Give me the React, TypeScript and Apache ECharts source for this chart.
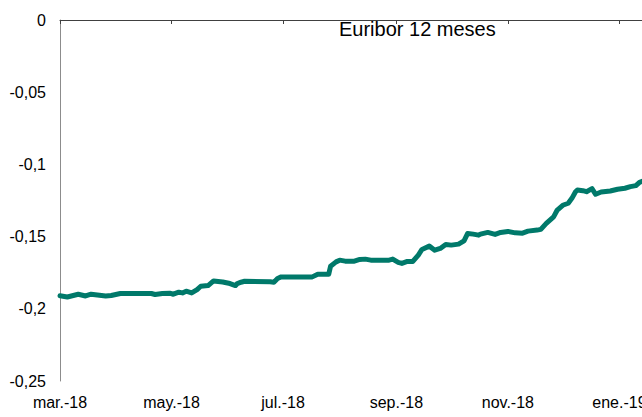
import React, { useEffect, useRef } from "react";
import * as echarts from "echarts";

const chartTitle = "Euribor 12 meses";

const startDate = "2018-03-01";
const endDate = "2019-01-15";

const tickDates = ["2018-03-01", "2018-05-01", "2018-07-01", "2018-09-01", "2018-11-01", "2019-01-01"];
const tickLabels = ["mar.-18", "may.-18", "jul.-18", "sep.-18", "nov.-18", "ene.-19"];

const obsDates = [
  "2018-03-01", "2018-03-05", "2018-03-11", "2018-03-15", "2018-03-18", "2018-03-26", "2018-03-29",
  "2018-04-03", "2018-04-20", "2018-04-22", "2018-04-26", "2018-04-30", "2018-05-02", "2018-05-05",
  "2018-05-07", "2018-05-09", "2018-05-12", "2018-05-15", "2018-05-17", "2018-05-21", "2018-05-24",
  "2018-05-29", "2018-06-02", "2018-06-05", "2018-06-06", "2018-06-08", "2018-06-10", "2018-06-24",
  "2018-06-26", "2018-06-28", "2018-06-30", "2018-07-17", "2018-07-20", "2018-07-26", "2018-07-27",
  "2018-07-30", "2018-08-01", "2018-08-04", "2018-08-09", "2018-08-12", "2018-08-15", "2018-08-18",
  "2018-08-28", "2018-08-30", "2018-09-02", "2018-09-04", "2018-09-07", "2018-09-10", "2018-09-13",
  "2018-09-15", "2018-09-19", "2018-09-22", "2018-09-25", "2018-09-28", "2018-10-01", "2018-10-05",
  "2018-10-08", "2018-10-10", "2018-10-13", "2018-10-16", "2018-10-17", "2018-10-21", "2018-10-25",
  "2018-10-28", "2018-11-01", "2018-11-05", "2018-11-09", "2018-11-12", "2018-11-17", "2018-11-19",
  "2018-11-22", "2018-11-26", "2018-11-28", "2018-12-01", "2018-12-04", "2018-12-06", "2018-12-08",
  "2018-12-09", "2018-12-12", "2018-12-14", "2018-12-17", "2018-12-19", "2018-12-22", "2018-12-27",
  "2018-12-31", "2019-01-04", "2019-01-07", "2019-01-10", "2019-01-12", "2019-01-15",
];

const euribor12m = [
  -0.191, -0.1918, -0.1899, -0.1911, -0.1899, -0.1911, -0.1908,
  -0.1894, -0.1894, -0.1901, -0.1894, -0.1892, -0.1899, -0.1885,
  -0.189, -0.1878, -0.189, -0.1867, -0.1844, -0.1839, -0.1807,
  -0.1814, -0.1825, -0.1839, -0.1825, -0.1816, -0.1809, -0.1813,
  -0.1816, -0.179, -0.1779, -0.1779, -0.176, -0.176, -0.1705,
  -0.1675, -0.1663, -0.167, -0.167, -0.1658, -0.1656, -0.1663,
  -0.1663, -0.1656, -0.1679, -0.1686, -0.1672, -0.1672, -0.1628,
  -0.1589, -0.1566, -0.1594, -0.1582, -0.1554, -0.1559, -0.1552,
  -0.1529, -0.1478, -0.1483, -0.149, -0.1483, -0.1471, -0.1485,
  -0.1471, -0.1464, -0.1474, -0.1476, -0.1462, -0.1455, -0.145,
  -0.1408, -0.1363, -0.1316, -0.1283, -0.1269, -0.1235, -0.1189,
  -0.1177, -0.1182, -0.1189, -0.1168, -0.1207, -0.1191, -0.1184,
  -0.1172, -0.1165, -0.1154, -0.1147, -0.1124, -0.111,
];

function dayCategories(from: string, to: string): string[] {
  const out: string[] = [];
  const d = new Date(from + "T00:00:00Z");
  const end = new Date(to + "T00:00:00Z");
  while (d.getTime() <= end.getTime()) {
    out.push(d.toISOString().slice(0, 10));
    d.setUTCDate(d.getUTCDate() + 1);
  }
  return out;
}

const FONT = "'Liberation Sans', Arial, sans-serif";

export default function App() {
  const ref = useRef<HTMLDivElement>(null);
  useEffect(() => {
    if (!ref.current) return;
    const chart = echarts.init(ref.current, undefined, { renderer: "svg" });
    const categories = dayCategories(startDate, endDate);
    const seriesData = obsDates.map((d, i) => [categories.indexOf(d), euribor12m[i]]);
    const isTick = (_idx: number, value: string) => tickDates.includes(value);
    chart.setOption({
      animation: false,
      backgroundColor: "#ffffff",
      title: {
        text: chartTitle,
        left: 339,
        top: 19,
        padding: 0,
        textStyle: { fontSize: 20, fontWeight: "normal", color: "#000", fontFamily: FONT },
      },
      grid: { left: 60, top: 20, right: 15, bottom: 36, containLabel: false },
      xAxis: [
        {
          type: "category",
          data: categories,
          boundaryGap: false,
          position: "bottom",
          axisLine: { show: false, onZero: false },
          axisTick: { show: false },
          splitLine: { show: false },
          axisLabel: {
            interval: isTick,
            margin: 13,
            color: "#000",
            fontSize: 16,
            fontFamily: FONT,
            formatter: (v: string) => {
              const k = tickDates.indexOf(v);
              return k >= 0 ? tickLabels[k] : "";
            },
          },
        },
        {
          type: "category",
          data: categories,
          boundaryGap: false,
          position: "top",
          axisLine: { show: true, onZero: false, lineStyle: { color: "#404040", width: 1 } },
          axisTick: { show: true, inside: true, length: 4, interval: isTick, lineStyle: { color: "#404040" } },
          axisLabel: { show: false },
          splitLine: { show: false },
        },
      ],
      yAxis: {
        type: "value",
        min: -0.25,
        max: 0,
        interval: 0.05,
        axisLine: { show: true, onZero: false, lineStyle: { color: "#8c8c8c", width: 1 } },
        axisTick: { show: false },
        splitLine: { show: false },
        axisLabel: {
          margin: 14,
          color: "#000",
          fontSize: 16,
          fontFamily: FONT,
          formatter: (v: number) => String(Math.round(v * 100) / 100).replace(".", ","),
        },
      },
      series: [
        {
          type: "line",
          xAxisIndex: 0,
          data: seriesData,
          symbol: "none",
          smooth: false,
          lineStyle: { color: "#00796A", width: 5, join: "round", cap: "round" },
        },
      ],
    });
    return () => chart.dispose();
  }, []);
  return (
    <div
      style={{
        position: "fixed",
        left: 0,
        top: 0,
        width: 642,
        height: 417,
        overflow: "hidden",
        background: "#fff",
      }}
    >
      <div ref={ref} style={{ width: 660, height: 417 }} />
    </div>
  );
}
